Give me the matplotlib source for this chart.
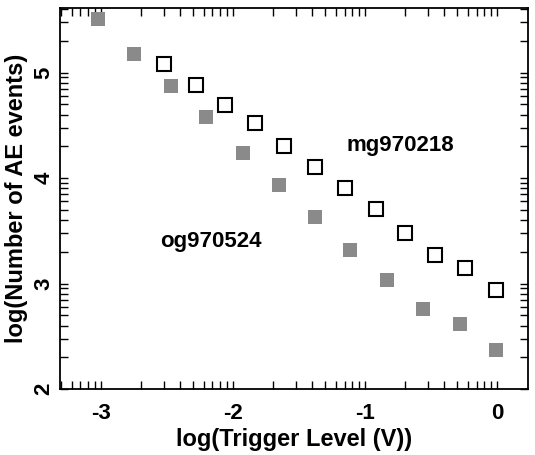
import matplotlib
matplotlib.use('Agg')
import matplotlib.pyplot as plt
import numpy as np

# Data (log10 values)
og_x = [-3.02, -2.75, -2.47, -2.20, -1.92, -1.65, -1.38, -1.11, -0.83, -0.56, -0.28, -0.01]
og_y = [5.51, 5.18, 4.87, 4.58, 4.24, 3.93, 3.63, 3.32, 3.03, 2.76, 2.62, 2.37]

mg_x = [-2.52, -2.28, -2.06, -1.83, -1.61, -1.38, -1.15, -0.92, -0.70, -0.47, -0.24, -0.01]
mg_y = [5.08, 4.88, 4.69, 4.52, 4.30, 4.10, 3.91, 3.71, 3.48, 3.27, 3.15, 2.94]

xtick_vals = [-3, -2, -1, 0]
xtick_labels = ['-3', '-2', '-1', '0']
ytick_vals = [2, 3, 4, 5]
ytick_labels = ['2', '3', '4', '5']

plt.rcParams['font.family'] = ['Liberation Sans', 'DejaVu Sans']
plt.rcParams['font.weight'] = 'bold'
plt.rcParams['axes.unicode_minus'] = False

fig = plt.figure(figsize=(5.35, 4.55), dpi=100)
ax = fig.add_axes([0.112, 0.145, 0.875, 0.837])

ax.plot(og_x, og_y, 's', color='#8a8a8a', markersize=10, markeredgewidth=0, linestyle='none')
ax.plot(mg_x, mg_y, 's', markerfacecolor='white', markeredgecolor='black',
        markersize=9.5, markeredgewidth=1.5, linestyle='none')

ax.text(-0.73, 4.31, 'mg970218', fontsize=16, fontweight='bold', ha='center', va='center')
ax.text(-2.17, 3.40, 'og970524', fontsize=16, fontweight='bold', ha='center', va='center')

xmin, xmax = -3.31, 0.235
ymin, ymax = 2.0, 5.61
ax.set_xlim(xmin, xmax)
ax.set_ylim(ymin, ymax)

# log-style minor ticks inside each decade
def minor_ticks(lo, hi):
    vals = []
    for n in range(int(np.floor(lo)) - 1, int(np.ceil(hi)) + 1):
        for k in range(2, 10):
            v = n + np.log10(k)
            if lo < v < hi:
                vals.append(v)
    return vals

ax.set_xticks(xtick_vals)
ax.set_xticklabels(xtick_labels)
ax.set_xticks(minor_ticks(xmin, xmax), minor=True)
ax.set_yticks(ytick_vals)
ax.set_yticklabels(ytick_labels)
ax.set_yticks(minor_ticks(ymin, ymax), minor=True)

ax.tick_params(which='both', direction='in', top=True, right=True, width=1.0, length=6)
ax.tick_params(axis='x', which='major', labelsize=16, pad=10)
ax.tick_params(axis='y', which='major', labelsize=16, pad=4, labelrotation=90)
for lab in ax.get_yticklabels():
    lab.set_verticalalignment('center')

for sp in ax.spines.values():
    sp.set_linewidth(1.3)

ax.set_xlabel('log(Trigger Level (V))', fontsize=17, fontweight='bold', labelpad=3)
ax.set_ylabel('log(Number of AE events)', fontsize=17, fontweight='bold', labelpad=4)

plt.savefig('out.png', dpi=100)
